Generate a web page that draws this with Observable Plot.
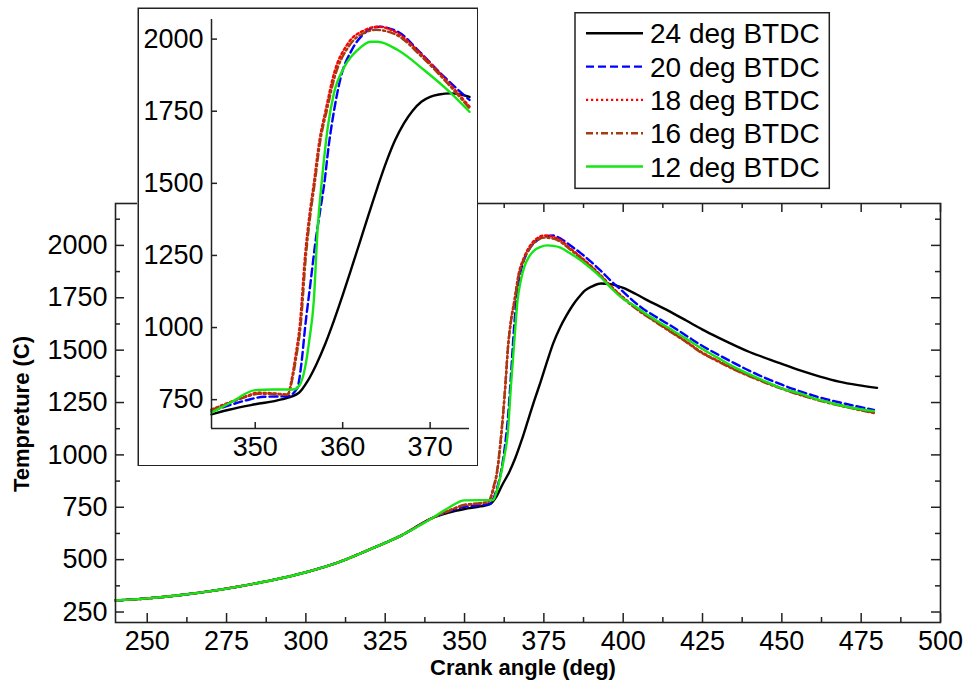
<!DOCTYPE html>
<html>
<head>
<meta charset="utf-8">
<script src="https://cdn.jsdelivr.net/npm/d3@7"></script>
<script src="https://cdn.jsdelivr.net/npm/@observablehq/plot@0.6"></script>
<style>
  body { margin: 0; background: #fff; }
  #chart { position: relative; width: 965px; height: 683px; overflow: hidden; background: #fff;
           font-family: "Liberation Sans", Arial, sans-serif; color: #000; }
  #chart > * { position: absolute; }
  .title { font-weight: bold; font-size: 22px; white-space: nowrap; }
</style>
</head>
<body>
<div id="chart"></div>
<script>
// ---------- data ----------
const seriesNames  = ["24 deg BTDC", "20 deg BTDC", "18 deg BTDC", "16 deg BTDC", "12 deg BTDC"];
const seriesColors = ["#000000", "#0000ff", "#ff0000", "#a33c0e", "#14e614"];
const seriesDash   = [null, "8,4", "2.2,2.8", "7,3,2,3", null];

// main chart axis
const mainXDomain = [240, 500];
const mainYDomain = [200, 2200];
const xMajor = [250, 275, 300, 325, 350, 375, 400, 425, 450, 475, 500];
const xMinor = [262.5, 287.5, 312.5, 337.5, 362.5, 387.5, 412.5, 437.5, 462.5, 487.5];
const yMajor = [250, 500, 750, 1000, 1250, 1500, 1750, 2000];
const yMinor = [375, 625, 875, 1125, 1375, 1625, 1875, 2125];

// shared compression part (all series coincide)
const commonX = [240, 250, 260, 270, 280, 290, 300, 310, 320, 330, 340];
const commonY = [305, 315, 330, 350, 375, 404, 440, 486, 548, 615, 700];

// main chart, after 340 deg
const main24X = [345, 350, 355, 358, 360, 362, 364, 366, 368, 370, 372, 374, 376, 378, 380, 382, 384, 386, 388, 390, 393, 396, 400, 404, 408, 414, 420, 425, 430, 440, 450, 456, 462, 468, 474, 480];
const main24Y = [725, 742, 754, 765, 800, 860, 915, 985, 1070, 1165, 1260, 1350, 1445, 1535, 1605, 1662, 1712, 1752, 1785, 1803, 1818, 1815, 1797, 1768, 1735, 1690, 1640, 1598, 1560, 1490, 1435, 1402, 1374, 1350, 1333, 1320];

const main20X = [345, 350, 355, 358, 360, 361.5, 362.8, 363.8, 364.5, 365.3, 366.2, 367.2, 368.5, 370.5, 373, 375.5, 378, 380.5, 383.5, 386.7, 390, 393, 396, 399.3, 405.6, 410, 414, 420, 424.4, 430, 435, 440, 450, 460, 470, 479];
const main20Y = [730, 752, 760, 766, 830, 920, 1050, 1200, 1350, 1540, 1720, 1840, 1920, 1985, 2025, 2043, 2047, 2030, 1998, 1962, 1920, 1878, 1833, 1788, 1705, 1662, 1626, 1568, 1525, 1478, 1438, 1400, 1335, 1283, 1244, 1215];

const main18X = [345, 350, 355, 357.5, 359, 360.5, 361.3, 362.1, 363, 363.6, 364.6, 365.7, 367, 368.8, 370.5, 372, 375.1, 378, 380.4, 383, 386.7, 390, 393, 396, 399.3, 405.6, 410, 414, 420, 424.4, 430, 435, 440, 450, 460, 470, 479];
const main18Y = [734, 760, 768, 775, 830, 941, 1050, 1180, 1360, 1498, 1640, 1737, 1860, 1944, 1995, 2023, 2047, 2040, 2023, 1990, 1944, 1900, 1856, 1808, 1761, 1685, 1640, 1600, 1540, 1493, 1448, 1410, 1377, 1318, 1270, 1232, 1203];

const main16X = [345, 350, 355, 357.5, 359, 360.5, 361.3, 362.1, 363, 363.6, 364.6, 365.7, 367, 368.8, 370.5, 372, 375.1, 378, 380.4, 383, 386.7, 390, 393, 396, 399.3, 405.6, 410, 414, 420, 424.4, 430, 435, 440, 450, 460, 470, 479];
const main16Y = [732, 762, 770, 776, 840, 950, 1060, 1190, 1365, 1495, 1632, 1728, 1850, 1935, 1985, 2013, 2037, 2032, 2015, 1984, 1938, 1895, 1851, 1803, 1756, 1680, 1636, 1596, 1537, 1490, 1445, 1407, 1374, 1315, 1267, 1229, 1200];

const main12X = [345, 350, 355, 359, 360, 361.5, 362.5, 363.6, 364.6, 365.7, 366.7, 367.7, 368.8, 370.5, 372, 374, 376, 378, 380, 383, 386.7, 390, 393, 396, 399.3, 403.5, 408, 414, 420, 424.4, 430, 435, 440, 445.4, 450, 455.9, 461, 466.4, 472, 479];
const main12Y = [748, 783, 784, 784, 820, 910, 990, 1100, 1323, 1546, 1737, 1830, 1896, 1950, 1976, 1993, 2000, 1998, 1991, 1965, 1928, 1888, 1848, 1800, 1753, 1712, 1665, 1609, 1553, 1510, 1462, 1419, 1383, 1347, 1318, 1292, 1266, 1244, 1225, 1209];

// inset axis
const insetXDomain = [345, 374.5];
const insetYDomain = [650, 2068];
const insetXTicks = [350, 360, 370];
const insetYTicks = [750, 1000, 1250, 1500, 1750, 2000];

// inset curves
const in24X = [345, 347, 350, 353, 355, 356, 357, 358, 359, 360, 361, 362, 363, 364, 365, 366, 367, 368, 369, 370, 371, 372.4, 373.5, 374.5];
const in24Y = [699, 715, 734, 751, 774, 815, 873, 943, 1024, 1112, 1205, 1300, 1395, 1488, 1575, 1650, 1708, 1752, 1783, 1800, 1808, 1812, 1808, 1800];

const in20X = [345, 347, 349, 351, 353.7, 354.8, 355.3, 355.7, 356.3, 356.9, 357.5, 357.9, 358.4, 359, 359.8, 361, 362.3, 363.5, 364.3, 365.5, 366.3, 368.6, 371.2, 374.5];
const in20Y = [710, 730, 748, 760, 762, 790, 880, 1000, 1150, 1300, 1420, 1500, 1630, 1750, 1870, 1960, 2015, 2040, 2043, 2035, 2026, 1962, 1881, 1789];

const in18X = [345, 347, 349, 350.3, 352, 353.7, 354.2, 354.6, 355.1, 355.7, 356.2, 356.7, 357.3, 358.1, 359, 360.6, 362.5, 364, 366.3, 368.9, 372, 374.5];
const in18Y = [716, 740, 762, 774, 772, 768, 826, 900, 1010, 1250, 1390, 1500, 1640, 1760, 1880, 1985, 2031, 2043, 2020, 1950, 1852, 1766];

const in16X = [345, 347, 349, 350.3, 352, 353.7, 354.3, 354.7, 355.2, 355.8, 356.3, 356.8, 357.4, 358.2, 359.1, 360.7, 362.5, 363.8, 366.3, 368.9, 372, 374.5];
const in16Y = [714, 738, 760, 770, 770, 767, 830, 900, 1010, 1250, 1390, 1500, 1640, 1755, 1870, 1975, 2022, 2032, 2012, 1943, 1846, 1760];

const in12X = [345, 347.2, 350, 352, 354.3, 355, 355.7, 356.2, 356.7, 357.1, 357.7, 358.3, 359, 360.2, 361.7, 363.2, 364, 366.3, 369.3, 372.4, 374.5];
const in12Y = [705, 740, 783, 785, 785, 797, 861, 960, 1093, 1325, 1534, 1696, 1812, 1904, 1962, 1991, 1991, 1962, 1893, 1812, 1748];

// ---------- build ----------
const FONT = '"Liberation Sans", Arial, sans-serif';
const fmt = d3.format("d");
const rows = (xs, ys) => xs.map((x, i) => ({x, y: ys[i]}));
const mainXs = [main24X, main20X, main18X, main16X, main12X];
const mainYs = [main24Y, main20Y, main18Y, main16Y, main12Y];
const inXs = [in24X, in20X, in18X, in16X, in12X];
const inYs = [in24Y, in20Y, in18Y, in16Y, in12Y];
const mainSeries = mainXs.map((xs, k) => rows(commonX.concat(xs), commonY.concat(mainYs[k])));
const insetSeries = inXs.map((xs, k) => rows(xs, inYs[k]));

const lineMarks = (series) => series.map((data, k) => Plot.line(data, {
  x: "x", y: "y", stroke: seriesColors[k], strokeWidth: 2.4,
  strokeDasharray: seriesDash[k] || undefined, curve: "monotone-x"
}));

const chart = document.getElementById("chart");

// main plot
const W = 965, H = 683, mL = 115, mR = 25, mT = 203, mB = 61;
const pw = W - mL - mR, ph = H - mT - mB;
const tk = {stroke: "#222", strokeWidth: 1.5};
const mainPlot = Plot.plot({
  width: W, height: H,
  marginLeft: mL, marginRight: mR, marginTop: mT, marginBottom: mB,
  style: {fontFamily: FONT, fontSize: "27px", color: "#000", background: "#fff"},
  x: {domain: mainXDomain, ticks: xMajor, tickSize: 0, tickPadding: 8, tickFormat: fmt, label: null},
  y: {domain: mainYDomain, ticks: yMajor, tickSize: 0, tickPadding: 8, tickFormat: fmt, label: null},
  marks: [
    ...lineMarks(mainSeries),
    Plot.tickX(xMajor, {x: d => d, insetTop: ph - 9, ...tk}),
    Plot.tickX(xMajor, {x: d => d, insetBottom: ph - 9, ...tk}),
    Plot.tickX(xMinor, {x: d => d, insetTop: ph - 5, ...tk}),
    Plot.tickX(xMinor, {x: d => d, insetBottom: ph - 5, ...tk}),
    Plot.tickY(yMajor, {y: d => d, insetRight: pw - 9, ...tk}),
    Plot.tickY(yMajor, {y: d => d, insetLeft: pw - 9, ...tk}),
    Plot.tickY(yMinor, {y: d => d, insetRight: pw - 5, ...tk}),
    Plot.tickY(yMinor, {y: d => d, insetLeft: pw - 5, ...tk}),
    Plot.frame({stroke: "#222", strokeWidth: 1.6})
  ]
});
mainPlot.style.left = "0px"; mainPlot.style.top = "0px";
chart.appendChild(mainPlot);

// inset plot
const iW = 341, iH = 459, iL = 74, iR = 9, iT = 12, iB = 38;
const ipw = iW - iL - iR, iph = iH - iT - iB;
const insetPlot = Plot.plot({
  width: iW, height: iH,
  marginLeft: iL, marginRight: iR, marginTop: iT, marginBottom: iB,
  style: {fontFamily: FONT, fontSize: "27px", color: "#000", background: "#fff"},
  x: {domain: insetXDomain, ticks: insetXTicks, tickSize: 0, tickPadding: 8, tickFormat: fmt, label: null},
  y: {domain: insetYDomain, ticks: insetYTicks, tickSize: 0, tickPadding: 8, tickFormat: fmt, label: null},
  marks: [
    ...lineMarks(insetSeries),
    Plot.tickX(insetXTicks, {x: d => d, insetTop: iph - 6, ...tk}),
    Plot.tickY(insetYTicks, {y: d => d, insetRight: ipw - 6, ...tk}),
    Plot.ruleX(insetXDomain.slice(0, 1), {...tk}),
    Plot.ruleY(insetYDomain.slice(0, 1), {...tk}),
    Plot.frame({stroke: "#222", strokeWidth: 1.5,
      insetLeft: -(iL - 0.75), insetRight: -(iR - 0.75), insetTop: -(iT - 0.75), insetBottom: -(iB - 0.75)})
  ]
});
insetPlot.style.left = "137px"; insetPlot.style.top = "7px";
chart.appendChild(insetPlot);

// legend
const legW = 257, legH = 178;
const leg = d3.create("svg").attr("width", legW).attr("height", legH)
  .style("left", "574px").style("top", "12px").style("font-family", FONT);
leg.append("rect").attr("x", 1).attr("y", 0.75).attr("width", 254.3).attr("height", 175.6)
  .attr("fill", "#fff").attr("stroke", "#222").attr("stroke-width", 1.5);
seriesNames.forEach((name, k) => {
  const cy = 21.3 + k * 33.3;
  leg.append("line").attr("x1", 12).attr("x2", 69).attr("y1", cy).attr("y2", cy)
    .attr("stroke", seriesColors[k]).attr("stroke-width", 2.4)
    .attr("stroke-dasharray", seriesDash[k]);
  leg.append("text").attr("x", 76).attr("y", cy).attr("dy", "0.36em")
    .attr("font-size", 28).attr("fill", "#000").text(name);
});
chart.appendChild(leg.node());

// axis titles
const xt = document.createElement("div");
xt.className = "title"; xt.textContent = "Crank angle (deg)";
xt.style.left = "523px"; xt.style.top = "668px"; xt.style.transform = "translate(-50%, -50%)";
chart.appendChild(xt);
const yt = document.createElement("div");
yt.className = "title"; yt.textContent = "Tempreture (C)";
yt.style.left = "22px"; yt.style.top = "414px";
yt.style.transform = "translate(-50%, -50%) rotate(-90deg)";
chart.appendChild(yt);
</script>
</body>
</html>
